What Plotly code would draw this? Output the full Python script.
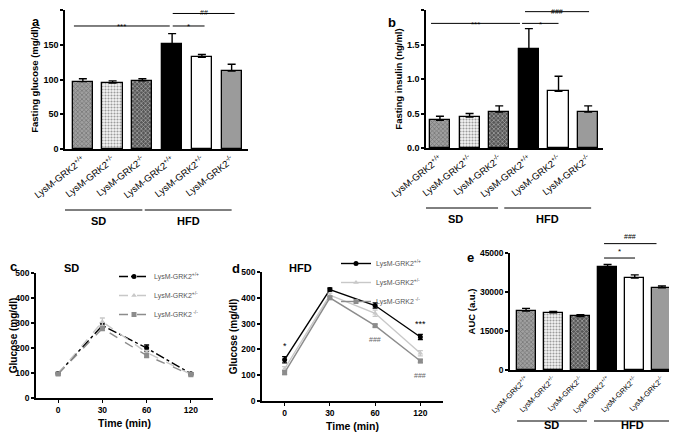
import plotly.graph_objects as go

# page has an 8px body margin, so the figure is drawn 8px in from the top-left corner
OFF = 8
W, H = 677 - OFF, 441 - OFF

# ---------------- data ----------------
genotypes = ["LysM-GRK2<sup>+/+</sup>", "LysM-GRK2<sup>+/-</sup>", "LysM-GRK2<sup>-/-</sup>",
             "LysM-GRK2<sup>+/+</sup>", "LysM-GRK2<sup>+/-</sup>", "LysM-GRK2<sup>-/-</sup>"]
diets = ["SD", "HFD"]

glucose_mean = [97, 95, 98, 151, 132, 112]
glucose_err = [4, 3, 3, 15, 4, 10]

insulin_mean = [0.40, 0.45, 0.52, 1.44, 0.82, 0.52]
insulin_err = [0.06, 0.05, 0.09, 0.29, 0.22, 0.09]

auc_mean = [22700, 22000, 20600, 39600, 35400, 31600]
auc_err = [1000, 500, 700, 1000, 1200, 700]

time_labels = ["0", "30", "60", "120"]
series_names = ["LysM-GRK2<sup>+/+</sup>", "LysM-GRK2<sup>+/-</sup>", "LysM-GRK2<sup> -/-</sup>"]

sd_wt = [98, 290, 200, 97]
sd_wt_err = [4, 10, 12, 4]
sd_het = [97, 305, 182, 95]
sd_het_err = [4, 15, 8, 4]
sd_ko = [96, 278, 170, 93]
sd_ko_err = [4, 8, 8, 4]

hfd_wt = [160, 432, 370, 248]
hfd_wt_err = [12, 6, 10, 10]
hfd_het = [125, 410, 340, 185]
hfd_het_err = [8, 8, 12, 10]
hfd_ko = [110, 400, 292, 155]
hfd_ko_err = [8, 6, 6, 6]

# ---------------- styling ----------------
FONT = "Liberation Sans, Arial, sans-serif"
bar_colors = ["#a0a0a0", "#f4f4f4", "#575757", "#000000", "#ffffff", "#9b9b9b"]
pat_shapes = ["x", ".", "x", "", "", ""]
pat_fg = ["#4a4a4a", "#909090", "#222222", "#000000", "#000000", "#000000"]

def px2x(p):
    return (p - OFF) / W

def px2y(p):
    return 1 - (p - OFF) / H

fig = go.Figure()
idx = list(range(len(genotypes)))
panels = {}

def add_bar_panel(n, means, errs, xdom, ydom, xrange, yrange, dtick, title, tickfont, catfont,
                  barwidth=0.68, tickformat=None, angle=-38):
    xa = "x" if n == 1 else f"x{n}"
    ya = "y" if n == 1 else f"y{n}"
    panels[n] = (ydom, yrange)
    fig.add_trace(go.Bar(
        x=idx, y=means, xaxis=xa, yaxis=ya, width=barwidth,
        marker=dict(color=bar_colors, line=dict(color="#000", width=1.3),
                    pattern=dict(shape=pat_shapes, fgcolor=pat_fg, bgcolor=bar_colors,
                                 size=3, solidity=0.4)),
        error_y=dict(type="data", symmetric=False, array=errs, arrayminus=[0] * len(errs),
                     color="#000", thickness=1.4, width=4),
        showlegend=False, cliponaxis=False))
    fig.layout[("xaxis" if n == 1 else f"xaxis{n}")] = dict(
        domain=xdom, range=xrange, anchor=ya, showline=True, linecolor="#000", linewidth=1.5,
        tickmode="array", tickvals=idx, ticktext=genotypes, tickangle=angle, ticks="",
        tickfont=dict(family=FONT, size=catfont, color="#000"), showgrid=False, zeroline=False,
        automargin=False)
    fig.layout[("yaxis" if n == 1 else f"yaxis{n}")] = dict(
        domain=ydom, range=yrange, anchor=xa, showline=True, linecolor="#000", linewidth=1.5,
        dtick=dtick, ticks="outside", ticklen=3, tickwidth=1.5, tickcolor="#000",
        tickformat=tickformat,
        tickfont=dict(family=FONT, size=tickfont, color="#000", weight="bold"),
        title=dict(text=title, font=dict(family=FONT, size=9.5, color="#000", weight="bold"),
                   standoff=3),
        showgrid=False, zeroline=False, automargin=False)

# a
add_bar_panel(1, glucose_mean, glucose_err, [px2x(65), px2x(248)], [px2y(149), px2y(10)],
              [-0.6, 5.55], [0, 200], 50, "Fasting glucose (mg/dl)", 9, 9.5)
# b
add_bar_panel(2, insulin_mean, insulin_err, [px2x(426), px2x(603)], [px2y(148), px2y(10)],
              [-0.47, 5.5], [0, 2.0], 0.5, "Fasting insulin (ng/ml)", 9, 9.5, tickformat=".1f")
# e
add_bar_panel(5, auc_mean, auc_err, [px2x(510), px2x(672)], [px2y(370), px2y(253)],
              [-0.59, 5.37], [0, 45000], 15000, "AUC (a.u.)", 8.5, 7.5, barwidth=0.7,
              tickformat="d", angle=-45)

# line panels
def add_line_panel(n, series, xdom, ydom, legend_name, dashes):
    xa = f"x{n}"
    ya = f"y{n}"
    panels[n] = (ydom, [0, 500])
    styles = [
        dict(color="#000000", symbol="circle", msize=5),
        dict(color="#c8c8c8", symbol="triangle-up", msize=5),
        dict(color="#8c8c8c", symbol="square", msize=5),
    ]
    for (vals, errs), name, st, dash in zip(series, series_names, styles, dashes):
        fig.add_trace(go.Scatter(
            x=list(range(len(time_labels))), y=vals, xaxis=xa, yaxis=ya, name=name,
            mode="lines+markers", legend=legend_name,
            line=dict(color=st["color"], width=1.4, dash=dash),
            marker=dict(color=st["color"], symbol=st["symbol"], size=st["msize"]),
            error_y=dict(type="data", array=errs, color=st["color"], thickness=1.3, width=2.5),
            cliponaxis=False))
    fig.layout[f"xaxis{n}"] = dict(
        domain=xdom, range=[-0.5, 3.5], anchor=ya, showline=True, linecolor="#000", linewidth=1.5,
        tickmode="array", tickvals=list(range(len(time_labels))), ticktext=time_labels,
        ticks="outside", ticklen=3, tickwidth=1.2, tickcolor="#000",
        tickfont=dict(family=FONT, size=8.5, color="#000", weight="bold"),
        title=dict(text="Time (min)", font=dict(family=FONT, size=10.5, color="#000", weight="bold"),
                   standoff=6),
        showgrid=False, zeroline=False, automargin=False)
    fig.layout[f"yaxis{n}"] = dict(
        domain=ydom, range=[0, 500], anchor=xa, showline=True, linecolor="#000", linewidth=1.5,
        dtick=100, ticks="outside", ticklen=3, tickwidth=1.5, tickcolor="#000",
        tickfont=dict(family=FONT, size=8.5, color="#000", weight="bold"),
        title=dict(text="Glucose (mg/dl)", font=dict(family=FONT, size=10, color="#000", weight="bold"),
                   standoff=2),
        showgrid=False, zeroline=False, automargin=False)

add_line_panel(3, [(sd_wt, sd_wt_err), (sd_het, sd_het_err), (sd_ko, sd_ko_err)],
               [px2x(36), px2x(213)], [px2y(398), px2y(273)], "legend",
               ["dashdot", "dash", "dash"])
add_line_panel(4, [(hfd_wt, hfd_wt_err), (hfd_het, hfd_het_err), (hfd_ko, hfd_ko_err)],
               [px2x(262), px2x(443)], [px2y(401), px2y(272)], "legend2",
               ["solid", "solid", "solid"])

legend_common = dict(bgcolor="rgba(0,0,0,0)", font=dict(family=FONT, size=7, color="#555"),
                     tracegroupgap=0, itemwidth=30, xanchor="left", yanchor="top")
fig.update_layout(
    legend=dict(x=px2x(114), y=px2y(262), **legend_common),
    legend2=dict(x=px2x(336), y=px2y(249), **legend_common),
)

shapes = []
annots = []

def v2p(n, v):
    (d0, d1), (r0, r1) = panels[n]
    return d0 + (v - r0) / (r1 - r0) * (d1 - d0)

def sig(n, x0, x1, y, text, ty, size=8):
    xref = "x" if n == 1 else f"x{n}"
    shapes.append(dict(type="line", xref=xref, yref="paper", x0=x0, x1=x1,
                       y0=v2p(n, y), y1=v2p(n, y), line=dict(color="#000", width=1)))
    annots.append(dict(xref=xref, yref="paper", x=(x0 + x1) / 2, y=v2p(n, ty), text=text,
                       showarrow=False, font=dict(family=FONT, size=size, color="#000")))

# a significance
sig(1, -0.3, 2.92, 177, "***", 186)
sig(1, 3.02, 4.09, 177, "*", 186)
sig(1, 3.02, 5.1, 195, "##", 204, size=7)
# b significance
sig(2, -0.3, 2.7, 1.806, "***", 1.89)
sig(2, 2.77, 4.0, 1.806, "*", 1.89)
sig(2, 2.87, 5.03, 1.976, "###", 2.06, size=7)
# e significance
sig(5, 2.87, 4.01, 43070, "*", 45700)
sig(5, 2.87, 4.8, 48600, "###", 51300, size=7)

# d stars
for xv, yv, t in [(0, 212, "*"), (3, 300, "***"), (2, 240, "###"), (3, 100, "###")]:
    annots.append(dict(xref="x4", yref="y4", x=xv, y=yv, text=t, showarrow=False,
                       font=dict(family=FONT, size=9 if t.startswith("*") else 7,
                                 color="#000" if t.startswith("*") else "#666")))

# diet group lines
def groups(xref, sd_range, hfd_range, ly, ty, size=11):
    for (x0, x1), lab in zip([sd_range, hfd_range], diets):
        shapes.append(dict(type="line", xref=xref, yref="paper", x0=x0, x1=x1, y0=ly, y1=ly,
                           line=dict(color="#000", width=1)))
        annots.append(dict(xref=xref, yref="paper", x=(x0 + x1) / 2, y=ty, text=f"<b>{lab}</b>",
                           showarrow=False, font=dict(family=FONT, size=size, color="#000")))

groups("x", (-0.94, 2.0), (2.08, 5.0), px2y(210), px2y(221))
groups("x2", (-0.91, 1.96), (2.17, 5.1), px2y(208), px2y(219))
groups("x5", (-0.33, 2.24), (2.5, 5.37), px2y(421), px2y(433))

# panel letters and titles
for x, y, t in [(30, 12, "a"), (392, 13, "b"), (230, 268, "d"), (476, 257, "e")]:
    annots.append(dict(xref="paper", yref="paper", x=px2x(x), y=px2y(y), text=f"<b>{t}</b>",
                       showarrow=False, font=dict(family=FONT, size=13, color="#000")))
annots.append(dict(xref="paper", yref="paper", x=0, y=px2y(266), xanchor="left", text="<b>c</b>",
                   showarrow=False, font=dict(family=FONT, size=13, color="#000")))
for x, y, t in [(62, 268, "SD"), (300, 268, "HFD")]:
    annots.append(dict(xref="paper", yref="paper", x=px2x(x), y=px2y(y), text=f"<b>{t}</b>",
                       showarrow=False, font=dict(family=FONT, size=11, color="#000")))

fig.update_layout(
    width=W, height=H, margin=dict(l=0, r=0, t=0, b=0),
    paper_bgcolor="white", plot_bgcolor="white",
    shapes=shapes, annotations=annots, bargap=0,
    font=dict(family=FONT),
)

fig.write_html("out.html")
